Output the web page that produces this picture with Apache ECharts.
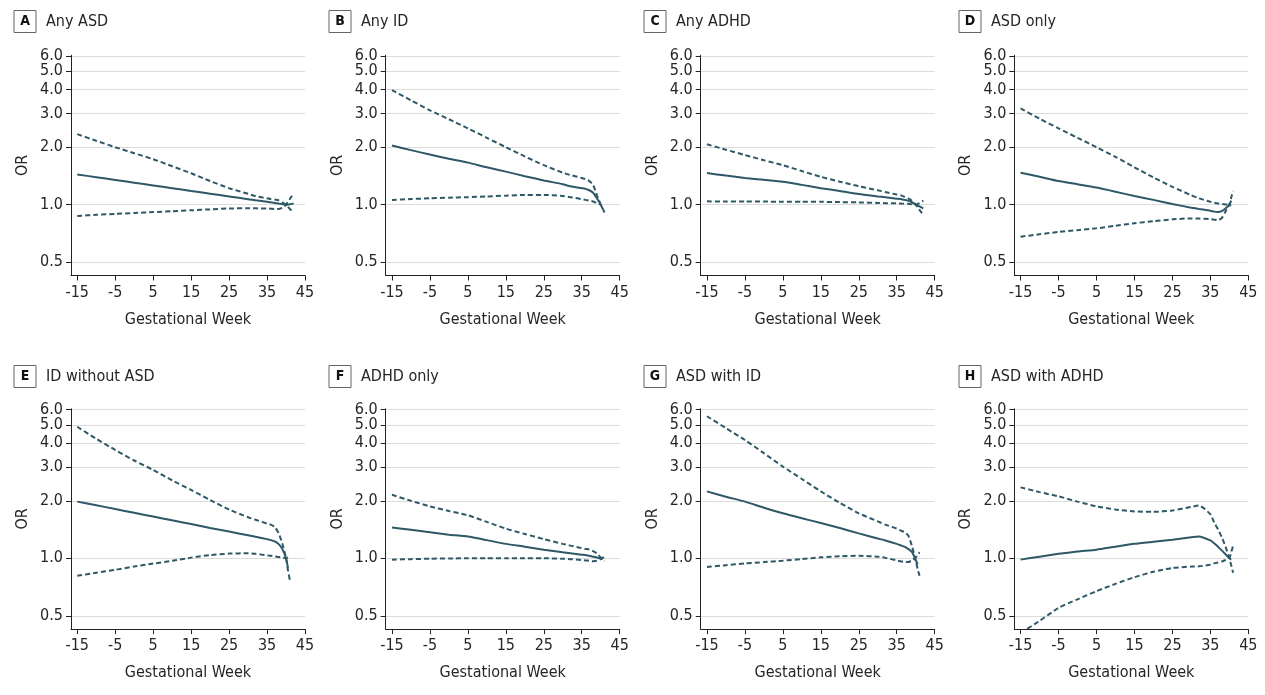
<!DOCTYPE html>
<html><head><meta charset="utf-8">
<script src="https://cdn.jsdelivr.net/npm/echarts@6/dist/echarts.min.js"></script>
<style>html,body{margin:0;padding:0;background:#fff}#c{width:1265px;height:695px}</style>
</head><body><div id="c"></div>
<script>
const weeks = [-15,-10,-5,0,5,10,15,20,25,30,32,35,36,37,38,39,40,40.5,41,42];
const panelLetters = ['A','B','C','D','E','F','G','H'];
const panelTitles = ['Any ASD','Any ID','Any ADHD','ASD only','ID without ASD','ADHD only','ASD with ID','ASD with ADHD'];
const xTicks = [-15,-5,5,15,25,35,45];
const yTicks = [0.5,1,2,3,4,5];
const yTopTick = [6];

// A Any ASD
const aOR    = [1.44,1.393,1.348,1.304,1.261,1.22,1.18,1.142,1.105,1.069,1.055,1.036,1.03,1.022,1.014,1.007,1.0,1.0,1.005,1.015];
const aUpper = [2.34,2.16,2.0,1.86,1.73,1.59,1.46,1.33,1.22,1.14,1.11,1.08,1.07,1.065,1.055,1.03,1.0,0.975,0.95,0.91];
const aLower = [0.873,0.885,0.895,0.905,0.915,0.925,0.935,0.945,0.955,0.958,0.957,0.955,0.953,0.95,0.95,0.965,1.0,1.035,1.07,1.15];
// B Any ID
const bOR    = [2.04,1.93,1.83,1.74,1.66,1.57,1.49,1.41,1.34,1.28,1.25,1.22,1.21,1.19,1.155,1.08,1.0,0.955,0.91,null];
const bUpper = [3.98,3.52,3.12,2.8,2.51,2.24,2.0,1.79,1.61,1.47,1.43,1.38,1.36,1.33,1.27,1.12,1.0,null,null,null];
const bLower = [1.058,1.07,1.08,1.088,1.095,1.105,1.115,1.125,1.125,1.11,1.095,1.07,1.06,1.05,1.04,1.02,1.0,null,null,null];
// C Any ADHD
const cOR    = [1.464,1.42,1.38,1.35,1.32,1.27,1.22,1.18,1.137,1.105,1.093,1.075,1.07,1.06,1.05,1.03,1.0,0.99,0.98,0.957];
const cUpper = [2.07,1.94,1.82,1.71,1.61,1.50,1.40,1.32,1.25,1.19,1.165,1.13,1.12,1.10,1.08,1.05,1.0,0.97,0.94,0.88];
const cLower = [1.041,1.04,1.039,1.038,1.037,1.036,1.035,1.032,1.028,1.022,1.018,1.016,1.014,1.012,1.01,1.005,1.0,1.01,1.02,1.05];
// D ASD only
const dOR    = [1.47,1.40,1.33,1.28,1.23,1.17,1.11,1.06,1.008,0.965,0.95,0.93,0.92,0.915,0.925,0.955,1.0,1.05,null,null];
const dUpper = [3.19,2.82,2.51,2.24,2.0,1.78,1.57,1.39,1.24,1.12,1.08,1.036,1.025,1.015,1.008,1.003,1.0,0.99,null,null];
const dLower = [0.68,0.70,0.72,0.736,0.752,0.776,0.80,0.82,0.838,0.848,0.846,0.84,0.835,0.83,0.85,0.92,1.0,1.09,1.18,null];
// E ID without ASD
const eOR    = [1.98,1.896,1.81,1.73,1.655,1.58,1.51,1.44,1.38,1.32,1.295,1.26,1.245,1.225,1.19,1.12,1.0,0.89,null,null];
const eUpper = [4.88,4.22,3.69,3.25,2.90,2.56,2.28,2.02,1.80,1.64,1.59,1.52,1.50,1.46,1.36,1.20,1.0,0.87,0.77,null];
const eLower = [0.81,0.84,0.87,0.905,0.938,0.97,1.008,1.04,1.058,1.062,1.055,1.035,1.03,1.022,1.015,1.008,1.0,1.01,null,null];
// F ADHD only
const fOR    = [1.45,1.41,1.37,1.33,1.30,1.245,1.19,1.15,1.11,1.075,1.063,1.045,1.04,1.03,1.02,1.01,1.0,0.99,null,null];
const fUpper = [2.15,2.0,1.87,1.77,1.68,1.55,1.43,1.34,1.26,1.19,1.165,1.13,1.12,1.11,1.09,1.06,1.01,0.985,0.965,null];
const fLower = [0.984,0.99,0.995,0.998,1.0,1.0,1.0,1.0,1.0,0.995,0.99,0.98,0.975,0.97,0.965,0.97,0.99,1.005,1.02,null];
// G ASD with ID
const gOR    = [2.24,2.1,1.98,1.84,1.72,1.62,1.53,1.44,1.35,1.27,1.24,1.19,1.17,1.15,1.12,1.08,0.98,0.93,null,null];
const gUpper = [5.54,4.8,4.16,3.55,3.02,2.6,2.24,1.95,1.72,1.56,1.50,1.43,1.40,1.37,1.32,1.16,0.97,0.88,0.81,null];
const gLower = [0.90,0.92,0.94,0.955,0.972,0.99,1.012,1.025,1.03,1.02,1.005,0.975,0.965,0.958,0.955,0.975,1.01,1.04,1.075,null];
// H ASD with ADHD
const hOR    = [0.984,1.02,1.055,1.085,1.11,1.15,1.19,1.22,1.25,1.29,1.30,1.24,1.20,1.15,1.10,1.05,1.0,0.985,null,null];
const hUpper = [2.35,2.22,2.11,1.98,1.87,1.80,1.76,1.75,1.78,1.86,1.89,1.70,1.54,1.42,1.29,1.15,1.0,0.92,0.84,null];
const hLower = [0.406,0.47,0.55,0.61,0.673,0.735,0.796,0.85,0.89,0.905,0.908,0.925,0.94,0.95,0.962,0.98,1.0,1.08,1.16,null];

const panels = [
  [aOR,aUpper,aLower],[bOR,bUpper,bLower],[cOR,cUpper,cLower],[dOR,dUpper,dLower],
  [eOR,eUpper,eLower],[fOR,fUpper,fLower],[gOR,gUpper,gLower],[hOR,hUpper,hLower]
];

const FONT = "'Liberation Sans Narrow','DejaVu Sans Condensed','Liberation Sans',sans-serif";
const TXT = '#262626';
const LINE = '#2e5866';
const colLeft = [71, 385.7, 700.7, 1014.3];
const rowTop = [55.2, 408.8];
const plotW = 234, plotH = 220.3;
const titleLeft = [14, 329, 644, 959];
const titleTop = [10, 365];

const grids = [], xAxes = [], yAxes = [], series = [], titles = [];
panels.forEach((p, i) => {
  const col = i % 4, row = Math.floor(i / 4);
  grids.push({left: colLeft[col], top: rowTop[row], width: plotW, height: plotH, outerBoundsMode: 'none', containLabel: false});
  xAxes.push({
    gridIndex: i, type: 'value', min: -16.65, max: 45,
    name: 'Gestational Week', nameLocation: 'middle', nameGap: 36,
    nameTextStyle: {fontFamily: FONT, fontSize: 16, color: TXT},
    axisLine: {show: true, onZero: false, lineStyle: {color: '#222', width: 1}},
    axisTick: {show: true, length: 5, customValues: xTicks, lineStyle: {color: '#222'}},
    axisLabel: {customValues: xTicks, margin: 9, fontFamily: FONT, fontSize: 16, color: TXT, formatter: v => String(v)},
    splitLine: {show: false}
  });
  const yBase = (vals, withName, showLine) => ({
    gridIndex: i, type: 'log', logBase: 10, min: 0.426, max: 6.06, position: 'left', offset: 0,
    name: withName ? 'OR' : '', nameLocation: 'middle', nameGap: 40,
    nameTextStyle: {fontFamily: FONT, fontSize: 16, color: TXT},
    axisLine: {show: showLine, onZero: false, lineStyle: {color: '#222', width: 1}},
    axisTick: {show: true, length: 5, customValues: vals, lineStyle: {color: '#222'}},
    axisLabel: {customValues: vals, margin: 8, showMaxLabel: true, showMinLabel: true,
                fontFamily: FONT, fontSize: 16, color: TXT, formatter: v => Number(v).toFixed(1)},
    splitLine: {show: true, lineStyle: {color: '#dcdcdc', width: 1}},
    minorTick: {show: false}, minorSplitLine: {show: false}
  });
  yAxes.push(yBase(yTicks, true, true));
  yAxes.push(yBase(yTopTick, false, false));
  titles.push({
    left: titleLeft[col], top: titleTop[row], padding: 0,
    text: '{b|' + panelLetters[i] + '}{t|' + panelTitles[i] + '}',
    textStyle: {
      rich: {
        b: {fontFamily: FONT, fontWeight: 'bold', fontSize: 14, color: '#111', borderColor: '#666', borderWidth: 1,
            width: 22, height: 22, lineHeight: 23, align: 'center', verticalAlign: 'middle'},
        t: {fontFamily: FONT, fontWeight: 'normal', fontSize: 16, color: TXT, padding: [0, 0, 0, 10],
            lineHeight: 23, verticalAlign: 'middle'}
      }
    }
  });
  const mk = (arr, dashed) => ({
    type: 'line', xAxisIndex: i, yAxisIndex: 2 * i,
    data: weeks.map((w, j) => [w, arr[j]]).filter(d => d[1] != null),
    showSymbol: false, symbol: 'none', smooth: 0.2, clip: true,
    lineStyle: {color: LINE, width: 2, type: dashed ? [5, 3] : 'solid'},
    silent: true, z: dashed ? 2 : 3
  });
  series.push(mk(p[0], false), mk(p[1], true), mk(p[2], true));
});

const chart = echarts.init(document.getElementById('c'), null, {renderer: 'canvas'});
chart.setOption({animation: false, backgroundColor: '#fff', title: titles, grid: grids, xAxis: xAxes, yAxis: yAxes, series: series});
</script></body></html>
